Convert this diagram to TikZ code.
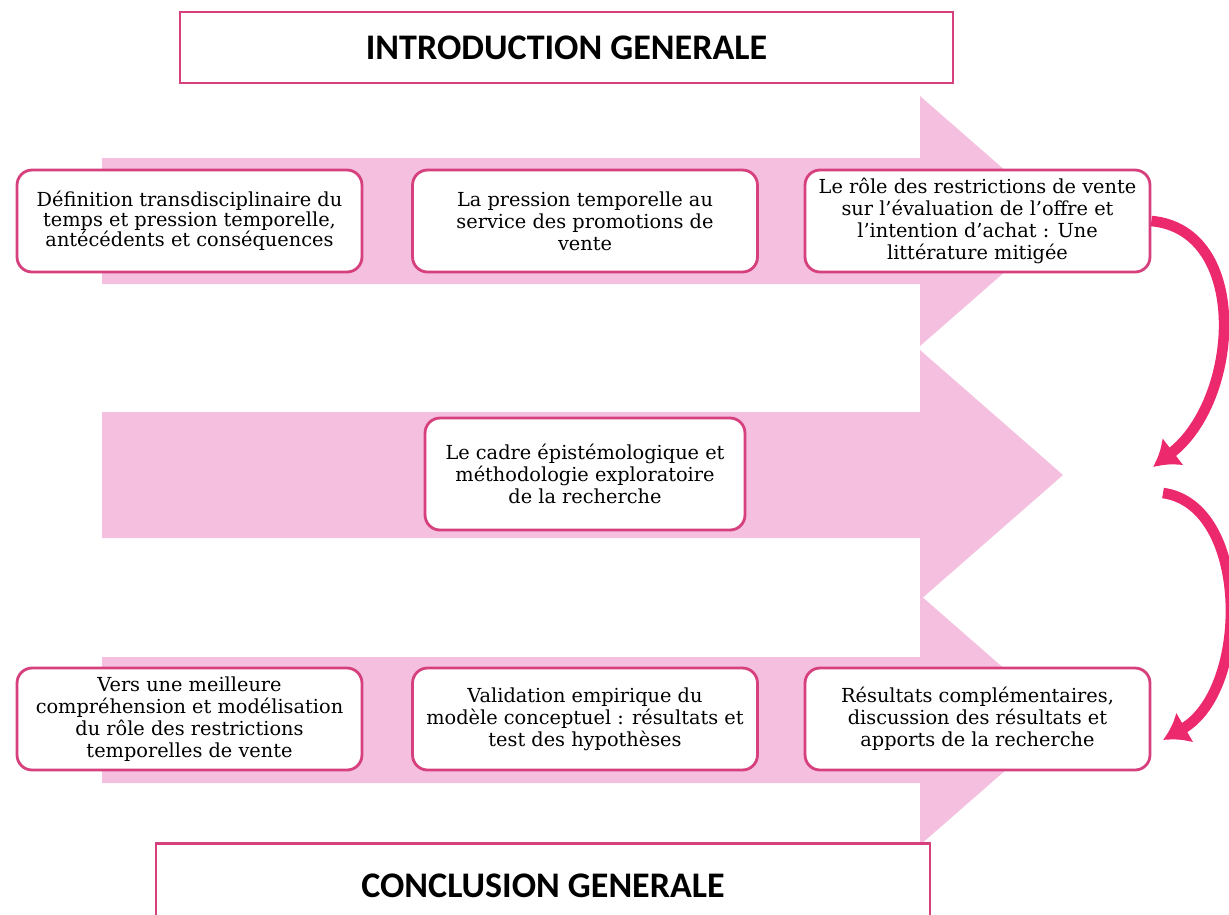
\documentclass[tikz,border=0pt]{standalone}
\usepackage{fontspec}
\setmainfont{DejaVu Serif}
\newfontfamily\headfont{Carlito}
\usepackage{tikz}
\usetikzlibrary{arrows.meta}
\tikzset{topic/.style = {draw = mrim, line width = 1.6pt, fill = white,
                         rounded corners = 0.3cm, align = center,
                         minimum width = 6.9cm, minimum height = 2.04cm,
                         inner xsep = 1pt, font = \fontsize{11}{12.6}\selectfont}}
\tikzset{heading/.style = {draw = mrim, line width = 1.6pt, fill = white,
                           font = \headfont\bfseries\fontsize{20.5}{24}\selectfont}}
\tikzset{turn/.style = {mcurve, line width = 6pt,
                        -{Latex[length = 0.5cm, width = 0.7cm]}}}
\definecolor{mpink}{rgb}{0.96, 0.75, 0.88}
\definecolor{mrim}{rgb}{0.84, 0.25, 0.49}
\definecolor{mcurve}{rgb}{0.93, 0.16, 0.43}

\begin{document}
\begin{tikzpicture}[x = 0.02cm, y = -0.02cm]
    \useasboundingbox (0, 0) rectangle (1229, 914);

    % the three broad arrows behind the boxes
    \foreach \yc in {221, 475, 720}
      \fill [mpink] (102, \yc - 63) -- (920, \yc - 63) -- (920, \yc - 125)
        -- (1063, \yc) -- (920, \yc + 125) -- (920, \yc + 63)
        -- (102, \yc + 63) -- cycle;

    \node [heading, minimum width = 15.46cm, minimum height = 1.42cm] (intro)
      at (566.5, 47.5) {INTRODUCTION GENERALE};

    \node [topic, font = \fontsize{11}{11.4}\selectfont] (definition) at (189.5, 221)
      {Définition transdisciplinaire du\\temps et pression temporelle,\\antécédents et conséquences};
    \node [topic] (pression) at (585, 221)
      {La pression temporelle au\\service des promotions de\\vente};
    \node [topic] (restrictions) at (977.5, 221)
      {Le rôle des restrictions de vente\\sur l’évaluation de l’offre et\\l’intention d’achat : Une\\littérature mitigée};

    \node [topic, minimum width = 6.4cm, minimum height = 2.24cm] (cadre) at (585, 474)
      {Le cadre épistémologique et\\méthodologie exploratoire\\de la recherche};

    \node [topic] (modele) at (189.5, 719)
      {Vers une meilleure\\compréhension et modélisation\\du rôle des restrictions\\temporelles de vente};
    \node [topic] (validation) at (585, 719)
      {Validation empirique du\\modèle conceptuel : résultats et\\test des hypothèses};
    \node [topic] (resultats) at (977.5, 719)
      {Résultats complémentaires,\\discussion des résultats et\\apports de la recherche};

    \node [heading, minimum width = 15.48cm, minimum height = 1.7cm] (conclusion)
      at (543, 886) {CONCLUSION GENERALE};

    % curved links on the right
    \coordinate (landA) at (1153, 467);
    \coordinate (startB) at (1163, 493);
    \coordinate (landB) at (1163, 740);
    \draw [turn] (restrictions.east) .. controls (1250, 230) and (1240, 400) .. (landA);
    \draw [turn] (startB) .. controls (1250, 505) and (1250, 690) .. (landB);
\end{tikzpicture}
\end{document}
